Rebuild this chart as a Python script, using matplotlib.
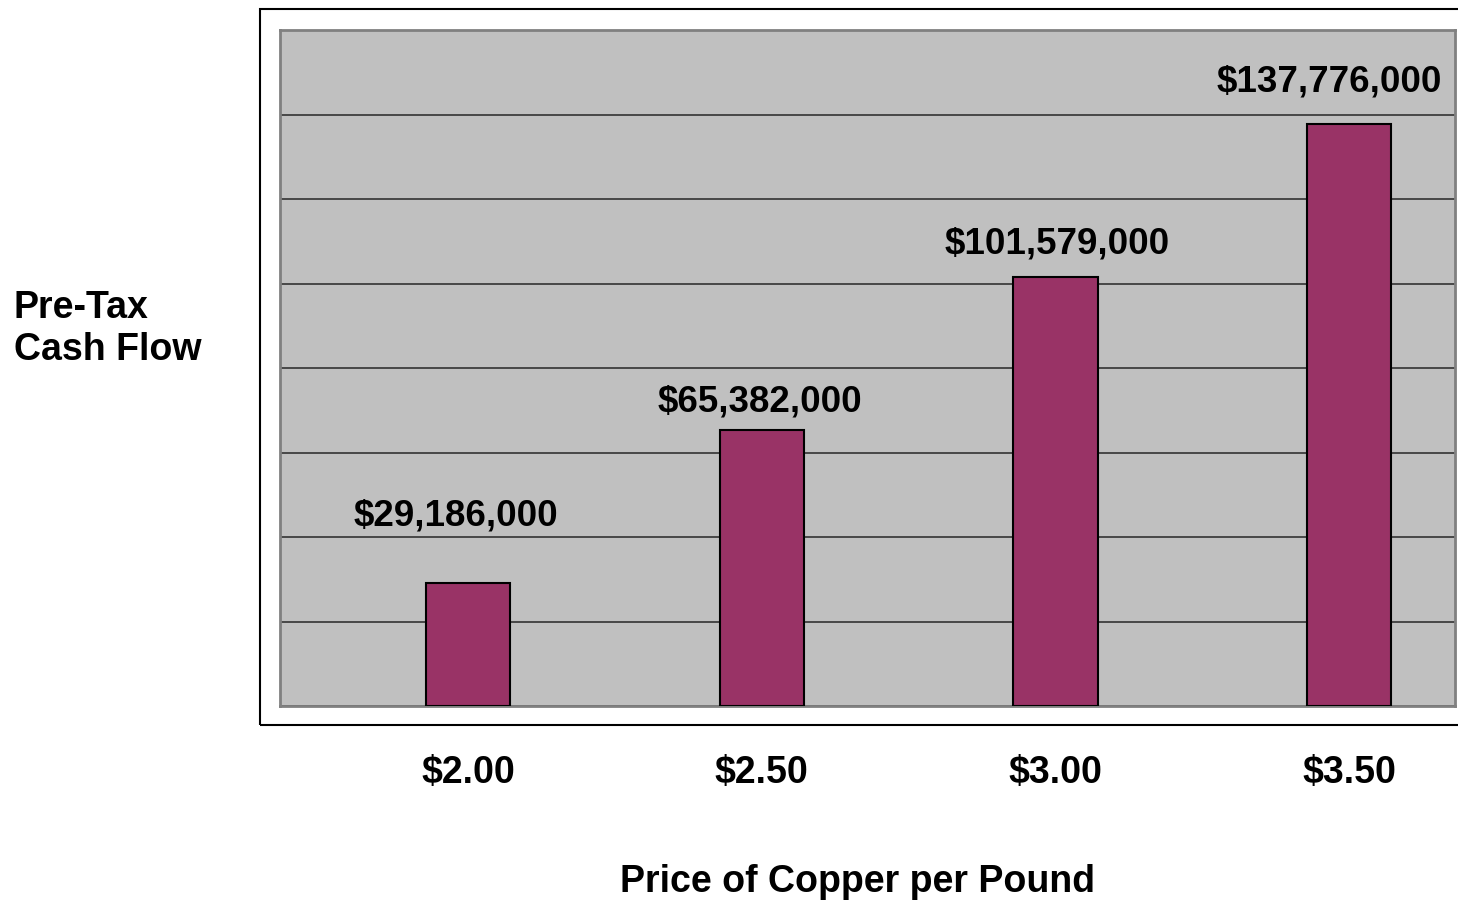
import matplotlib.pyplot as plt
from matplotlib.patches import Rectangle

# data
prices = ["$2.00", "$2.50", "$3.00", "$3.50"]
cash_flow = [29186000, 65382000, 101579000, 137776000]

# label nudges (pixels) to follow the hand-placed labels of the original
label_dx = [-12, -2, 2, -20]
label_dy = [68, 29, 34, 43]

plt.rcParams['font.family'] = ['Liberation Sans', 'DejaVu Sans']
plt.rcParams['font.weight'] = 'bold'

W, H = 1458, 904
fig = plt.figure(figsize=(W / 100, H / 100), dpi=100)

# outer frame (right edge runs off the picture)
fig.patches.append(Rectangle((260 / W, 1 - 726 / H), 1.2, (726 - 10) / H,
                             transform=fig.transFigure, fill=False,
                             edgecolor='black', linewidth=1.5))

ax = fig.add_axes([280 / W, 1 - 707 / H, (1455 - 280) / W, (707 - 31) / H])
ax.set_facecolor('#C0C0C0')

x = list(range(len(prices)))
ax.bar(x, cash_flow, width=0.286, color='#993366', edgecolor='black',
       linewidth=1.5, zorder=3)

# bars sit right of the category centre, as in the original
ax.set_xlim(-0.64, 3.36)
ax.set_ylim(0, 160000000)
ax.set_yticks(range(0, 160000001, 20000000))
ax.yaxis.grid(True, color='#333333', linewidth=1.2, zorder=1)
ax.set_axisbelow(True)
ax.tick_params(axis='y', left=False, labelleft=False)
ax.set_xticks(x)
ax.set_xticklabels(prices, fontsize=27, fontweight='bold')
ax.tick_params(axis='x', bottom=False, pad=31)

for s in ax.spines.values():
    s.set_color('#808080')
    s.set_linewidth(2)

for xi, v, dx, dy in zip(x, cash_flow, label_dx, label_dy):
    ax.annotate(f"${v:,.0f}", (xi, v), xytext=(dx, dy),
                textcoords='offset pixels', ha='center', va='center',
                fontsize=26.5, fontweight='bold', zorder=5)

fig.text(14 / W, 1 - 329 / H, "Pre-Tax\nCash Flow", ha='left', va='center',
         fontsize=27, fontweight='bold', linespacing=1.22)
fig.text(857 / W, 1 - 882 / H, "Price of Copper per Pound", ha='center',
         va='center', fontsize=27, fontweight='bold')

fig.savefig('out.png', dpi=100)
